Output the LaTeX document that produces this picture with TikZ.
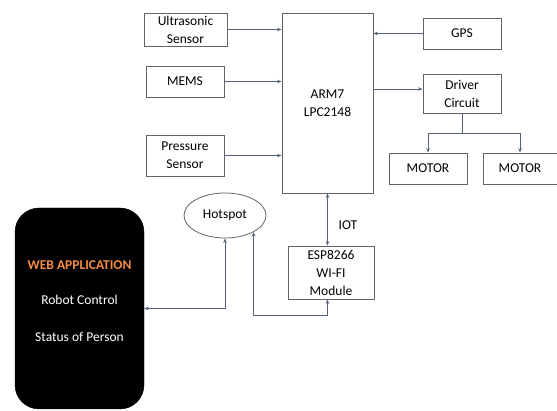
\documentclass[tikz,border=0pt]{standalone}
\usepackage{fontspec}
\setmainfont{Carlito}
\usetikzlibrary{arrows.meta,shapes.geometric}
\definecolor{linegray}{RGB}{85,98,120}
\definecolor{boxgray}{RGB}{100,100,100}
\definecolor{weborange}{RGB}{243,140,70}
\begin{document}
\begin{tikzpicture}[x=1pt,y=-1pt,
    block/.style={draw=boxgray,line width=0.8pt,align=center,inner sep=0pt,
      font=\fontsize{13.5}{18}\selectfont},
    link/.style={draw=linegray,line width=0.8pt,-{Stealth[length=4.5pt,width=3.5pt]}},
    both/.style={link,{Stealth[length=4.5pt,width=3.5pt]}-{Stealth[length=4.5pt,width=3.5pt]}},
    txt/.style={font=\fontsize{13.5}{18}\selectfont}]
    \useasboundingbox (0,0) rectangle (557,411);

    % Sensors and controller
    \node[block,minimum width=83,minimum height=33] (ultra) at (185.5,29.5) {Ultrasonic\\Sensor};
    \node[block,minimum width=78,minimum height=31] (mems) at (185,81.5) {MEMS};
    \node[block,minimum width=78,minimum height=41] (press) at (185,155.5) {Pressure\\Sensor};
    \node[block,minimum width=91,minimum height=180] (arm) at (327.5,103) {ARM7\\LPC2148};
    \node[block,minimum width=78,minimum height=31] (gps) at (462,33.5) {GPS};
    \node[block,minimum width=78,minimum height=39] (driver) at (462,93.5) {Driver\\Circuit};
    \node[block,minimum width=78,minimum height=31] (motorA) at (428,168.5) {MOTOR};
    \node[block,minimum width=74,minimum height=31] (motorB) at (520,168.5) {MOTOR};

    % Wireless part
    \node[block,minimum width=86,minimum height=53] (esp) at (331,272.5) {ESP8266\\WI-FI\\Module};
    \node[block,ellipse,minimum width=82,minimum height=45] (hot) at (225,215.5) {Hotspot};
    \node[txt] (iot) at (348,225) {IOT};

    % Web application
    \node[draw=black,fill=black,rounded corners=24pt,minimum width=129,minimum height=201] (web) at (79.5,308.5) {};
    \node[txt,font=\fontsize{13.5}{18}\selectfont\bfseries,text=weborange] (webtitle) at (79.5,265) {WEB APPLICATION};
    \node[txt,text=white] (robot) at (79.5,300) {Robot Control};
    \node[txt,text=white] (status) at (79.5,337) {Status of Person};

    \coordinate (split) at (462,133);
    \coordinate (loop) at (254,315);

    % Connections
    \draw[link] (ultra.east) -- (ultra.east -| arm.west);
    \draw[link] (mems.east) -- (mems.east -| arm.west);
    \draw[link] (press.east) -- (press.east -| arm.west);
    \draw[link] (gps.west) -- (gps.west -| arm.east);
    \draw[link] ([yshift=4.5pt]arm.east |- driver.west) -- ([yshift=4.5pt]driver.west);
    \draw[draw=linegray,line width=0.8pt] (driver.south) -- (split);
    \draw[link] (split) -| (motorA.north);
    \draw[link] (split) -| (motorB.north);
    \draw[both] (arm.south) -- (arm.south |- esp.north);
    \draw[both] (hot.south) |- (web.east);
    \draw[both] (hot.-30) -- (hot.-30 |- loop) -| (arm.south |- esp.south);
\end{tikzpicture}
\end{document}
